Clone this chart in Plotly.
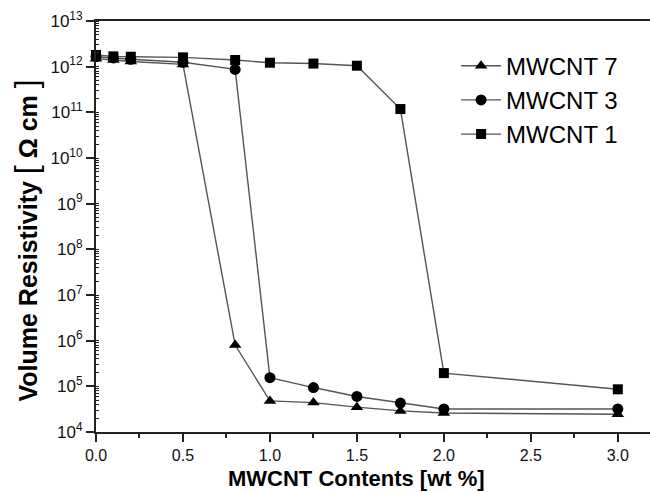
import plotly.graph_objects as go

# ---- data ----
contents_wt = [0.0, 0.1, 0.2, 0.5, 0.8, 1.0, 1.25, 1.5, 1.75, 2.0, 3.0]
mwcnt7 = [1.5e12, 1.4e12, 1.3e12, 1.12e12, 8.0e5, 4.8e4, 4.4e4, 3.5e4, 2.9e4, 2.6e4, 2.45e4]
mwcnt3 = [1.65e12, 1.55e12, 1.45e12, 1.25e12, 8.7e11, 1.55e5, 9.4e4, 6.0e4, 4.3e4, 3.2e4, 3.2e4]
mwcnt1 = [1.8e12, 1.68e12, 1.65e12, 1.6e12, 1.4e12, 1.22e12, 1.17e12, 1.05e12, 1.18e11, 1.95e5, 8.6e4]
series_names = ["MWCNT 7", "MWCNT 3", "MWCNT 1"]
series_symbols = ["triangle-up", "circle", "square"]

xtick_vals = [0.0, 0.5, 1.0, 1.5, 2.0, 2.5, 3.0]
xtick_text = ["0.0", "0.5", "1.0", "1.5", "2.0", "2.5", "3.0"]
ytick_vals = [10 ** k for k in range(4, 14)]
ytick_text = ["10<sup>%d</sup>" % k for k in range(4, 14)]

x_title = "MWCNT Contents [wt %]"
y_title = ("<b>Volume Resistivity</b> <span style='font-size:32px'>[</span>"
           "<b> Ω cm </b><span style='font-size:32px'>]</span>")

FONT = "Arial, Liberation Sans, sans-serif"

fig = go.Figure()
for name, vals, sym in zip(series_names, [mwcnt7, mwcnt3, mwcnt1], series_symbols):
    fig.add_trace(go.Scatter(
        x=contents_wt, y=vals, name=name, mode="lines+markers",
        line=dict(color="#555555", width=1.4),
        marker=dict(symbol=sym, size=11 if sym != "square" else 10, color="black",
                    line=dict(width=0)),
        cliponaxis=False,
    ))

fig.update_layout(
    width=650, height=492,
    margin=dict(l=95.5, r=0, t=21, b=60),
    paper_bgcolor="white", plot_bgcolor="white",
    font=dict(family=FONT, color="black"),
    showlegend=True,
    legend=dict(
        x=0.65, y=0.945, xanchor="left", yanchor="top",
        font=dict(size=24, family=FONT, color="black"),
        bgcolor="rgba(0,0,0,0)", itemwidth=40,
        tracegroupgap=0,
    ),
    xaxis=dict(
        range=[0, 3.185], tickmode="array",
        tickvals=xtick_vals, ticktext=xtick_text,
        ticks="outside", ticklen=8, tickwidth=1.5, tickcolor="#222",
        minor=dict(tickvals=[0.25, 0.75, 1.25, 1.75, 2.25, 2.75], ticks="outside",
                   ticklen=4, tickwidth=1.5, tickcolor="#222"),
        showline=True, linecolor="#222", linewidth=2, mirror=True,
        showgrid=False, zeroline=False,
        tickfont=dict(size=16, family=FONT, color="#111"),
    ),
    yaxis=dict(
        type="log", range=[4, 13], tickmode="array",
        tickvals=ytick_vals, ticktext=ytick_text,
        ticks="outside", ticklen=8, tickwidth=1.5, tickcolor="#222",
        minor=dict(ticks="inside", ticklen=3, tickwidth=1, tickcolor="#222",
                   dtick="D1", showgrid=False),
        showline=True, linecolor="#222", linewidth=2, mirror=False,
        showgrid=False, zeroline=False,
        tickfont=dict(size=17, family=FONT, color="#111"),
    ),
    annotations=[
        dict(text="<b>" + x_title + "</b>", xref="paper", yref="paper",
             x=(356 - 95.5) / 554.5, y=-(478 - 432) / 411, xanchor="center", yanchor="middle",
             showarrow=False, font=dict(size=22, family=FONT, color="black")),
        dict(text=y_title, xref="paper", yref="paper", textangle=-90,
             x=-(95.5 - 25) / 554.5, y=(432 - 241) / 411, xanchor="center", yanchor="middle",
             showarrow=False, font=dict(size=25, family=FONT, color="black")),
    ],
)

fig.write_html("out.html")
